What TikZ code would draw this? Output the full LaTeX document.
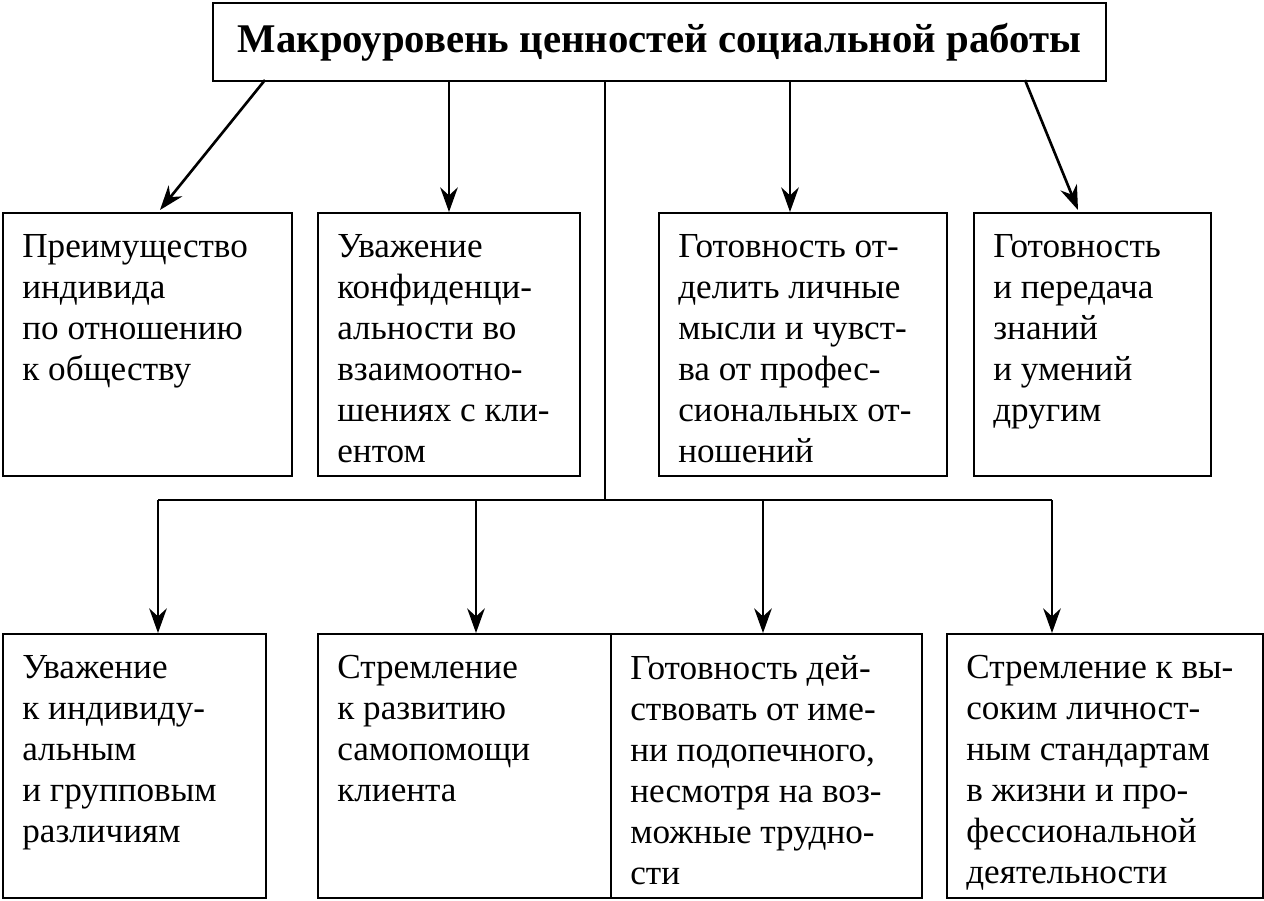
\documentclass[tikz,border=0pt]{standalone}
\usepackage{fontspec}
\setmainfont{Liberation Serif}
\usetikzlibrary{arrows.meta}
\begin{document}
\begin{tikzpicture}[x=0.02cm,y=-0.02cm,
 box/.style={draw,line width=1.3pt,inner sep=0pt},
 txt/.style={anchor=north west,align=left,inner sep=0pt,font=\fontsize{20}{23.3}\selectfont},
 arr/.style={line width=1.5pt,-{Stealth[length=14pt,width=10pt]}},
 ln/.style={line width=1.5pt}]
\useasboundingbox (0,0) rectangle (1264,900);
\newcommand{\bx}[6]{\node[box,minimum width=#4*0.02cm-#2*0.02cm,minimum height=#5*0.02cm-#3*0.02cm,anchor=north west] (#1) at (#2,#3) {};
 \node[txt] (#1t) at ([xshift=0.4cm,yshift=-0.44cm]#1.north west) {#6};}
\node[box,minimum width=17.86cm,minimum height=1.56cm,anchor=north west,font=\fontsize{23.2}{27}\selectfont\bfseries] (T) at (212,2) {Макроуровень ценностей социальной работы};
\bx{a}{2}{212}{291}{475}{Преимущество\\индивида\\по отношению\\к обществу}
\bx{b}{317}{212}{579}{475}{Уважение\\конфиденци-\\альности во\\взаимоотно-\\шениях с кли-\\ентом}
\bx{c}{658}{212}{946}{475}{Готовность от-\\делить личные\\мысли и чувст-\\ва от профес-\\сиональных от-\\ношений}
\bx{d}{973}{212}{1210}{475}{Готовность\\и передача\\знаний\\и умений\\другим}
\bx{e}{2}{633}{265}{897}{Уважение\\к индивиду-\\альным\\и групповым\\различиям}
\bx{f}{317}{633}{610}{897}{Стремление\\к развитию\\самопомощи\\клиента}
\bx{g}{610}{633}{921}{897}{Готовность дей-\\ствовать от име-\\ни подопечного,\\несмотря на воз-\\можные трудно-\\сти}
\bx{h}{946}{633}{1262}{897}{Стремление к вы-\\соким личност-\\ным стандартам\\в жизни и про-\\фессиональной\\деятельности}
\coordinate (t1) at (265,80); \coordinate (t2) at (449,80); \coordinate (t3) at (790,80); \coordinate (t4) at (1025,80); \coordinate (t5) at (605,80);
\draw[arr] (t1) -- (160,210);
\draw[arr] (t2) -- (449,212);
\draw[arr] (t3) -- (790,212);
\draw[arr] (t4) -- (1078,210);
\coordinate (m) at (605,500);
\draw[ln] (t5) -- (m);
\draw[ln] (158,500) -- (1052,500);
\draw[arr] (158,500) -- (158,633);
\draw[arr] (476,500) -- (476,633);
\draw[arr] (763,500) -- (763,633);
\draw[arr] (1052,500) -- (1052,633);
\end{tikzpicture}
\end{document}
